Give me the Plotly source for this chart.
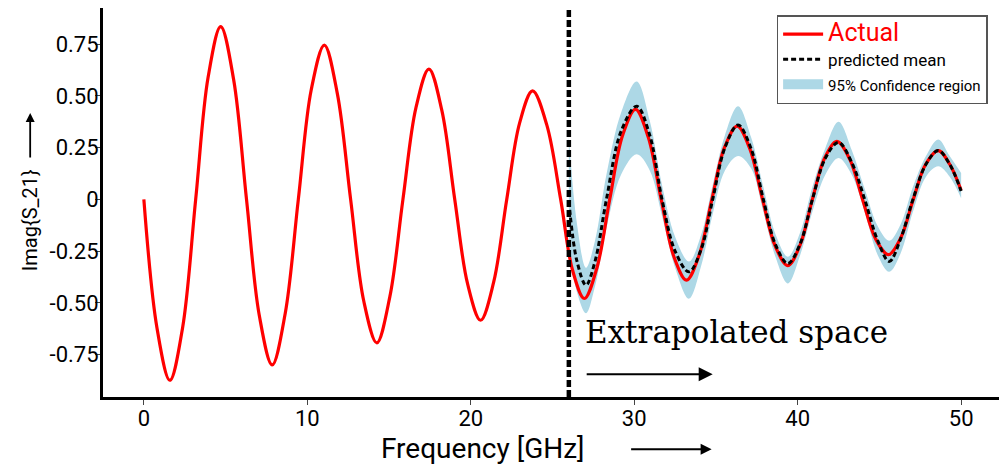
import plotly.graph_objects as go

# Imag{S21} (GHz, value)
actual_f = [0.0, 0.8, 1.59, 2.37, 3.17, 3.93, 4.7, 5.49, 6.28, 7.06, 7.85, 8.65,
            9.45, 10.24, 11.04, 11.84, 12.65, 13.45, 14.25, 15.05, 15.85, 16.65,
            17.44, 18.23, 19.02, 19.81, 20.6, 21.4, 22.2, 22.99, 23.78, 24.65,
            25.5, 26.22, 26.95, 27.72, 28.5, 29.29, 30.08, 30.86, 31.65, 32.42,
            33.2, 33.97, 34.75, 35.52, 36.3, 37.07, 37.85, 38.62, 39.4, 40.15,
            40.9, 41.65, 42.4, 43.18, 43.97, 44.76, 45.55, 46.31, 47.07, 47.83,
            48.6, 49.3, 50.0]
actual_v = [0.0, -0.62, -0.874, -0.62, 0.0, 0.59, 0.835, 0.58, 0.0, -0.56, -0.80, -0.55,
            0.0, 0.53, 0.746, 0.51, 0.0, -0.49, -0.693, -0.47, 0.0, 0.445,
            0.63, 0.43, 0.0, -0.41, -0.584, -0.40, 0.0, 0.37, 0.524, 0.36,
            0.0, -0.34, -0.479, -0.33, 0.0, 0.31, 0.435, 0.30, 0.0, -0.275,
            -0.39, -0.27, 0.0, 0.25, 0.354, 0.245, 0.0, -0.225, -0.32, -0.22,
            0.0, 0.2, 0.28, 0.195, 0.0, -0.19, -0.267, -0.185, 0.0, 0.17,
            0.236, 0.17, 0.044]

# GP prediction in the extrapolated region
pred_f = [26.0, 26.5, 27.05, 27.6, 28.3, 29.2, 30.15, 30.95, 31.7, 32.5, 33.35, 34.1,
          34.8, 35.55, 36.35, 37.15, 37.9, 38.65, 39.4, 40.15, 40.9, 41.7, 42.5,
          43.3, 44.1, 44.9, 45.6, 46.3, 47.05, 47.85, 48.6, 49.3, 50.0]
pred_mean = [-0.01, -0.30, -0.414, -0.30, 0.0, 0.33, 0.45, 0.31, 0.0, -0.25, -0.35, -0.24,
             0.0, 0.25, 0.36, 0.245, 0.0, -0.22, -0.31, -0.215, 0.0, 0.2, 0.275,
             0.18, 0.0, -0.2, -0.30, -0.19, 0.0, 0.17, 0.236, 0.17, 0.04]
ci_upper = [0.30, -0.12, -0.33, -0.20, 0.12, 0.42, 0.57, 0.38, 0.07, -0.18, -0.30, -0.17,
            0.07, 0.31, 0.45, 0.30, 0.06, -0.17, -0.277, -0.16, 0.06, 0.25, 0.375,
            0.24, 0.05, -0.13, -0.20, -0.12, 0.06, 0.21, 0.29, 0.21, 0.128]
ci_lower = [-0.20, -0.45, -0.55, -0.42, -0.14, 0.12, 0.218, 0.14, -0.08, -0.33, -0.48, -0.32,
            -0.07, 0.14, 0.21, 0.15, -0.06, -0.28, -0.406, -0.27, -0.06, 0.12, 0.20,
            0.12, -0.06, -0.27, -0.35, -0.26, -0.06, 0.11, 0.16, 0.11, 0.006]

boundary_f = 26.0
x_ticks = [0, 10, 20, 30, 40, 50]
y_ticks = [0.75, 0.5, 0.25, 0, -0.25, -0.5, -0.75]
y_ticktext = ['0.75', '0.50', '0.25', '0', '-0.25', '-0.50', '-0.75']

FONT = 'Roboto, Noto Sans, sans-serif'
BAND = '#ADD8E6'

fig = go.Figure()

# confidence band
fig.add_trace(go.Scatter(
    x=pred_f, y=ci_upper, mode='lines', line=dict(width=0, shape='spline'),
    showlegend=False, hoverinfo='skip'
))
fig.add_trace(go.Scatter(
    x=pred_f, y=ci_lower, mode='lines', line=dict(width=0, shape='spline'),
    fill='tonexty', fillcolor=BAND, showlegend=False, hoverinfo='skip'
))
# legend-only entry so the key is a solid box like the original
fig.add_trace(go.Scatter(
    x=[None], y=[None], mode='lines', line=dict(color=BAND, width=17),
    name='<span style="font-size:15px">95% Confidence region</span>', legendrank=3
))

fig.add_trace(go.Scatter(
    x=actual_f, y=actual_v, mode='lines',
    line=dict(color='red', width=3.2, shape='spline'),
    name='<span style="color:red;font-size:25px">Actual</span>', legendrank=1
))
fig.add_trace(go.Scatter(
    x=pred_f, y=pred_mean, mode='lines',
    line=dict(color='black', width=3, dash='5px,3px', shape='spline'),
    name='<span style="font-size:17px">predicted mean</span>', legendrank=2
))

fig.add_vline(x=boundary_f, line=dict(color='black', width=4.5, dash='7px,3px'))

fig.add_annotation(
    x=26.85, y=-0.64, xref='x', yref='y', text='Extrapolated space',
    showarrow=False, xanchor='left', yanchor='middle',
    font=dict(family='DejaVu Serif, Liberation Serif, serif', size=31, color='black')
)
fig.add_annotation(
    x=34.8, y=-0.845, ax=27.0, ay=-0.845, xref='x', yref='y', axref='x', ayref='y',
    text='', showarrow=True, arrowhead=2, arrowsize=1.4, arrowwidth=2, arrowcolor='black'
)

# axis titles with their arrows
fig.add_annotation(
    x=0.423, y=-0.133, xref='paper', yref='paper', text='Frequency [GHz]',
    showarrow=False, xanchor='center', yanchor='middle', font=dict(size=28)
)
fig.add_annotation(
    x=0.677, y=-0.134, xref='paper', yref='paper', ax=-82, ay=0, axref='pixel', ayref='pixel',
    text='', showarrow=True, arrowhead=2, arrowsize=1.1, arrowwidth=2, arrowcolor='black'
)
fig.add_annotation(
    x=-0.081, y=0.455, xref='paper', yref='paper', text='Imag{S_21}', textangle=-90,
    showarrow=False, xanchor='center', yanchor='middle', font=dict(size=20)
)
fig.add_annotation(
    x=-0.081, y=0.73, xref='paper', yref='paper', ax=0, ay=46, axref='pixel', ayref='pixel',
    text='', showarrow=True, arrowhead=2, arrowsize=1.0, arrowwidth=1.8, arrowcolor='black'
)

# the page adds an 8px body margin, so the figure is sized to sit inside it
fig.update_layout(
    width=999, height=459,
    margin=dict(l=95, r=5, t=0, b=70, autoexpand=False),
    paper_bgcolor='white', plot_bgcolor='white',
    font=dict(family=FONT, size=19, color='black'),
    legend=dict(
        x=0.984, y=0.982, xanchor='right', yanchor='top', traceorder='normal',
        bgcolor='white', bordercolor='#555555', borderwidth=1.5,
        font=dict(family=FONT, size=17, color='black'),
        tracegroupgap=0, itemwidth=40
    ),
    xaxis=dict(
        range=[-2.5, 52.5], tickvals=x_ticks, ticks='outside', ticklen=5,
        tickcolor='#444', showgrid=False, zeroline=False, automargin=False,
        showline=True, linecolor='black', linewidth=3, mirror=True,
        tickfont=dict(size=22), ticklabelstandoff=-5
    ),
    yaxis=dict(
        range=[-0.955, 0.925], tickvals=y_ticks, ticktext=y_ticktext,
        ticks='outside', ticklen=5, tickcolor='#444', showgrid=False, zeroline=False,
        showline=True, linecolor='black', linewidth=3, mirror=True, automargin=False,
        tickfont=dict(size=22), ticklabelstandoff=-8
    )
)

fig.write_html("out.html")
